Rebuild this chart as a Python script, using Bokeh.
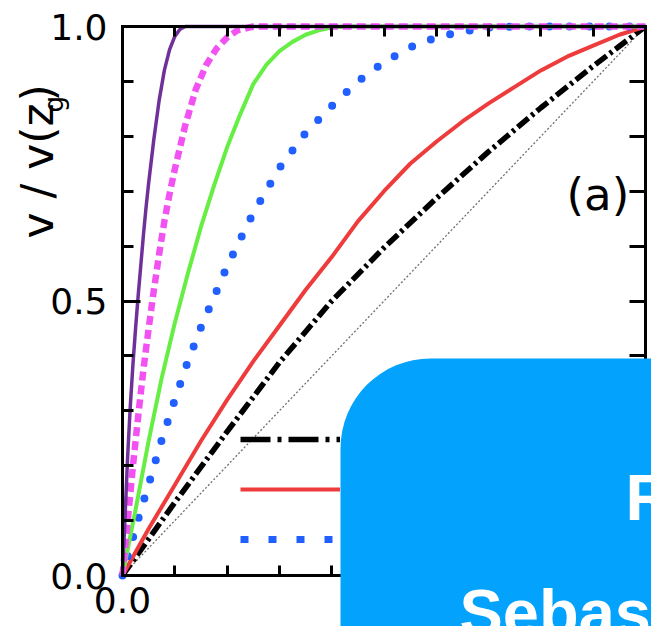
import math
from bokeh.plotting import figure
from bokeh.models import (Range1d, FixedTicker, PrintfTickFormatter, LinearAxis,
                          Legend, LegendItem, BoxAnnotation, Label)
from bokeh.embed import file_html
from bokeh.resources import INLINE

# ---------------- data ----------------
diag_x = [0.0, 1.0]
diag_y = [0.0, 1.0]

black_x = [0.0, 0.1, 0.2, 0.3, 0.4, 0.5, 0.6, 0.7, 0.8, 0.9, 1.0]
black_y = [0.0, 0.133, 0.262, 0.388, 0.50, 0.597, 0.687, 0.772, 0.852, 0.928, 1.0]

red_x = [0.0, 0.05, 0.1, 0.15, 0.2, 0.25, 0.3, 0.35, 0.4, 0.45, 0.5, 0.55, 0.6,
         0.65, 0.7, 0.75, 0.8, 0.85, 0.9, 0.95, 1.0]
red_y = [0.0, 0.085, 0.165, 0.245, 0.32, 0.39, 0.455, 0.52, 0.58, 0.645, 0.70, 0.75,
         0.79, 0.827, 0.86, 0.89, 0.92, 0.945, 0.965, 0.985, 1.0]

blue_x = [0.0, 0.025, 0.05, 0.075, 0.1, 0.125, 0.15, 0.175, 0.2, 0.225, 0.25, 0.3,
          0.35, 0.4, 0.45, 0.5, 0.55, 0.6, 0.65, 0.7, 0.75, 1.0]
blue_y = [0.0, 0.087, 0.166, 0.247, 0.32, 0.39, 0.452, 0.507, 0.563, 0.612, 0.66, 0.742,
          0.806, 0.855, 0.90, 0.935, 0.962, 0.98, 0.991, 0.998, 1.0, 1.0]

green_x = [0.0, 0.025, 0.05, 0.075, 0.1, 0.125, 0.15, 0.175, 0.2, 0.225, 0.25, 0.275,
           0.3, 0.325, 0.35, 0.375, 0.4, 0.43, 1.0]
green_y = [0.0, 0.12, 0.245, 0.36, 0.46, 0.55, 0.635, 0.71, 0.78, 0.84, 0.895, 0.93,
           0.955, 0.972, 0.985, 0.993, 0.998, 1.0, 1.0]

magenta_x = [0.0, 0.01, 0.02, 0.03, 0.04, 0.05, 0.06, 0.07, 0.08, 0.09, 0.1, 0.12,
             0.14, 0.16, 0.18, 0.2, 0.22, 0.25, 1.0]
magenta_y = [0.0, 0.10, 0.20, 0.29, 0.375, 0.45, 0.52, 0.585, 0.645, 0.695, 0.74, 0.82,
             0.885, 0.93, 0.96, 0.98, 0.993, 1.0, 1.0]

purple_x = [0.0, 0.005, 0.01, 0.015, 0.02, 0.025, 0.03, 0.035, 0.04, 0.045, 0.05, 0.06,
            0.07, 0.08, 0.09, 0.1, 0.11, 0.12, 1.0]
purple_y = [0.0, 0.11, 0.22, 0.31, 0.385, 0.45, 0.51, 0.565, 0.62, 0.67, 0.715, 0.795,
            0.865, 0.92, 0.958, 0.982, 0.995, 1.0, 1.0]

y_major_ticks = [0.0, 0.5, 1.0]
x_major_ticks = [0.0]
all_minor_ticks = [0.1, 0.2, 0.3, 0.4, 0.5, 0.6, 0.7, 0.8, 0.9]
minor_ticks = [0.1, 0.2, 0.3, 0.4, 0.6, 0.7, 0.8, 0.9]
legend_labels = ["", "", ""]

# ---------------- layout (pixels) ----------------
W, H = 651, 626
FL, FR, FT, FB = 122, 645, 26, 575          # where data 0..1 sits on the canvas
sx = (FR - FL)
sy = (FB - FT)
x_range = Range1d(-FL / sx, (W - FL) / sx)
y_range = Range1d(-(H - FB) / sy, 1 + FT / sy)

FONT = "DejaVu Sans"
p = figure(width=W, height=H, x_range=x_range, y_range=y_range,
           output_backend="svg", toolbar_location=None,
           min_border=0, min_border_left=0, min_border_right=0,
           min_border_top=0, min_border_bottom=0)
p.title.visible = False
p.grid.visible = False
p.outline_line_color = None
p.background_fill_color = "white"
p.border_fill_color = "white"


def style_axis(ax, ticker, loc, maj_in, min_in, standoff=6):
    ax.ticker = ticker
    ax.fixed_location = loc
    ax.bounds = (0, 1)
    ax.formatter = PrintfTickFormatter(format="%.1f")
    ax.axis_line_width = 3
    ax.axis_line_color = "black"
    ax.axis_line_cap = "square"
    ax.major_tick_in = maj_in
    ax.major_tick_out = 0
    ax.minor_tick_in = min_in
    ax.minor_tick_out = 0
    ax.major_tick_line_width = 3
    ax.minor_tick_line_width = 3
    ax.major_tick_line_color = "black"
    ax.minor_tick_line_color = "black"
    ax.major_label_text_font = FONT
    ax.major_label_text_font_size = "36px"
    ax.major_label_text_color = "black"
    ax.major_label_standoff = standoff


style_axis(p.xaxis[0], FixedTicker(ticks=x_major_ticks, minor_ticks=minor_ticks),
           0, 18, 10, standoff=11)
style_axis(p.yaxis[0], FixedTicker(ticks=y_major_ticks, minor_ticks=minor_ticks),
           0, 18, 11, standoff=15)
top_ax = LinearAxis()
style_axis(top_ax, FixedTicker(ticks=[], minor_ticks=all_minor_ticks), 1, 17, 10)
p.add_layout(top_ax, "above")
right_ax = LinearAxis()
style_axis(right_ax, FixedTicker(ticks=[], minor_ticks=all_minor_ticks), 1, 16, 16)
p.add_layout(right_ax, "right")

# diagonal reference
p.line(diag_x, diag_y, line_color="#6f6f6f", line_width=1.3, line_dash="2 2")

# curves
BLACK, RED, BLUE = "black", "#EE3B3B", "#2160FF"
p.line(black_x, black_y, line_color=BLACK, line_width=5.5,
       line_dash="14 4 3 4", line_join="round")
p.line(red_x, red_y, line_color=RED, line_width=4, line_join="round")
p.line(blue_x, blue_y, line_color=BLUE, line_width=8,
       line_dash="0 20", line_cap="round", line_join="round")
p.line(green_x, green_y, line_color="#66EE44", line_width=4, line_join="round")
p.line(magenta_x, magenta_y, line_color="#F252F2", line_width=6.5,
       line_dash="9 5", line_join="round")
p.line(purple_x, purple_y, line_color="#70309A", line_width=3.5, line_join="round")

# legend samples (the legend draws longer dash patterns than the curves);
# hidden copies of the series only serve as legend swatches
lg_black = p.line(black_x, black_y, line_color=BLACK, line_width=5.5,
                  line_dash="30 7 4 7", visible=False)
lg_red = p.line(red_x, red_y, line_color=RED, line_width=4, visible=False)
lg_blue = p.line(blue_x, blue_y, line_color=BLUE, line_width=7, line_dash="8 20",
                 visible=False)

legend = Legend(items=[LegendItem(label=legend_labels[0], renderers=[lg_black]),
                       LegendItem(label=legend_labels[1], renderers=[lg_red]),
                       LegendItem(label=legend_labels[2], renderers=[lg_blue])],
                location=(240, H - FB + 26), glyph_width=100, glyph_height=20,
                label_height=20, spacing=30, padding=0, margin=0,
                background_fill_alpha=0, border_line_alpha=0,
                label_text_font_size="12px")
p.add_layout(legend)

# y-axis title  v / v(z_g)   (anchor = middle of the text box)
for txt, x, y, size in [("v / v(z", 37, 238, "44px"), ("g", 53, 112, "26px"),
                        (")", 37, 101, "44px")]:
    p.add_layout(Label(x=x, y=y, x_units="canvas", y_units="canvas", text=txt,
                       angle=math.pi / 2, text_font=FONT, text_font_size=size,
                       text_align="left", text_baseline="middle",
                       text_color="black"))

# panel tag
p.add_layout(Label(x=566, y=194, x_units="canvas", y_units="canvas", text="(a)",
                   text_font=FONT, text_font_size="45px", text_align="left",
                   text_baseline="middle", text_color="black"))

# blue overlay box with white text
box = BoxAnnotation(left=340, right=W + 100, top=358, bottom=H + 100,
                    left_units="canvas", right_units="canvas",
                    top_units="canvas", bottom_units="canvas",
                    fill_color="#03A2FD", fill_alpha=1.0, line_alpha=0,
                    border_radius=90, level="overlay")
p.add_layout(box)
for txt, x, y in [("R", 625, 497), ("Sebastian", 459, 612)]:
    p.add_layout(Label(x=x, y=y, x_units="canvas", y_units="canvas", text=txt,
                       text_font="Liberation Sans", text_font_style="bold",
                       text_font_size="65px", text_color="white",
                       text_align="left", text_baseline="middle",
                       level="overlay"))

open("out.html", "w").write(file_html(p, INLINE))
